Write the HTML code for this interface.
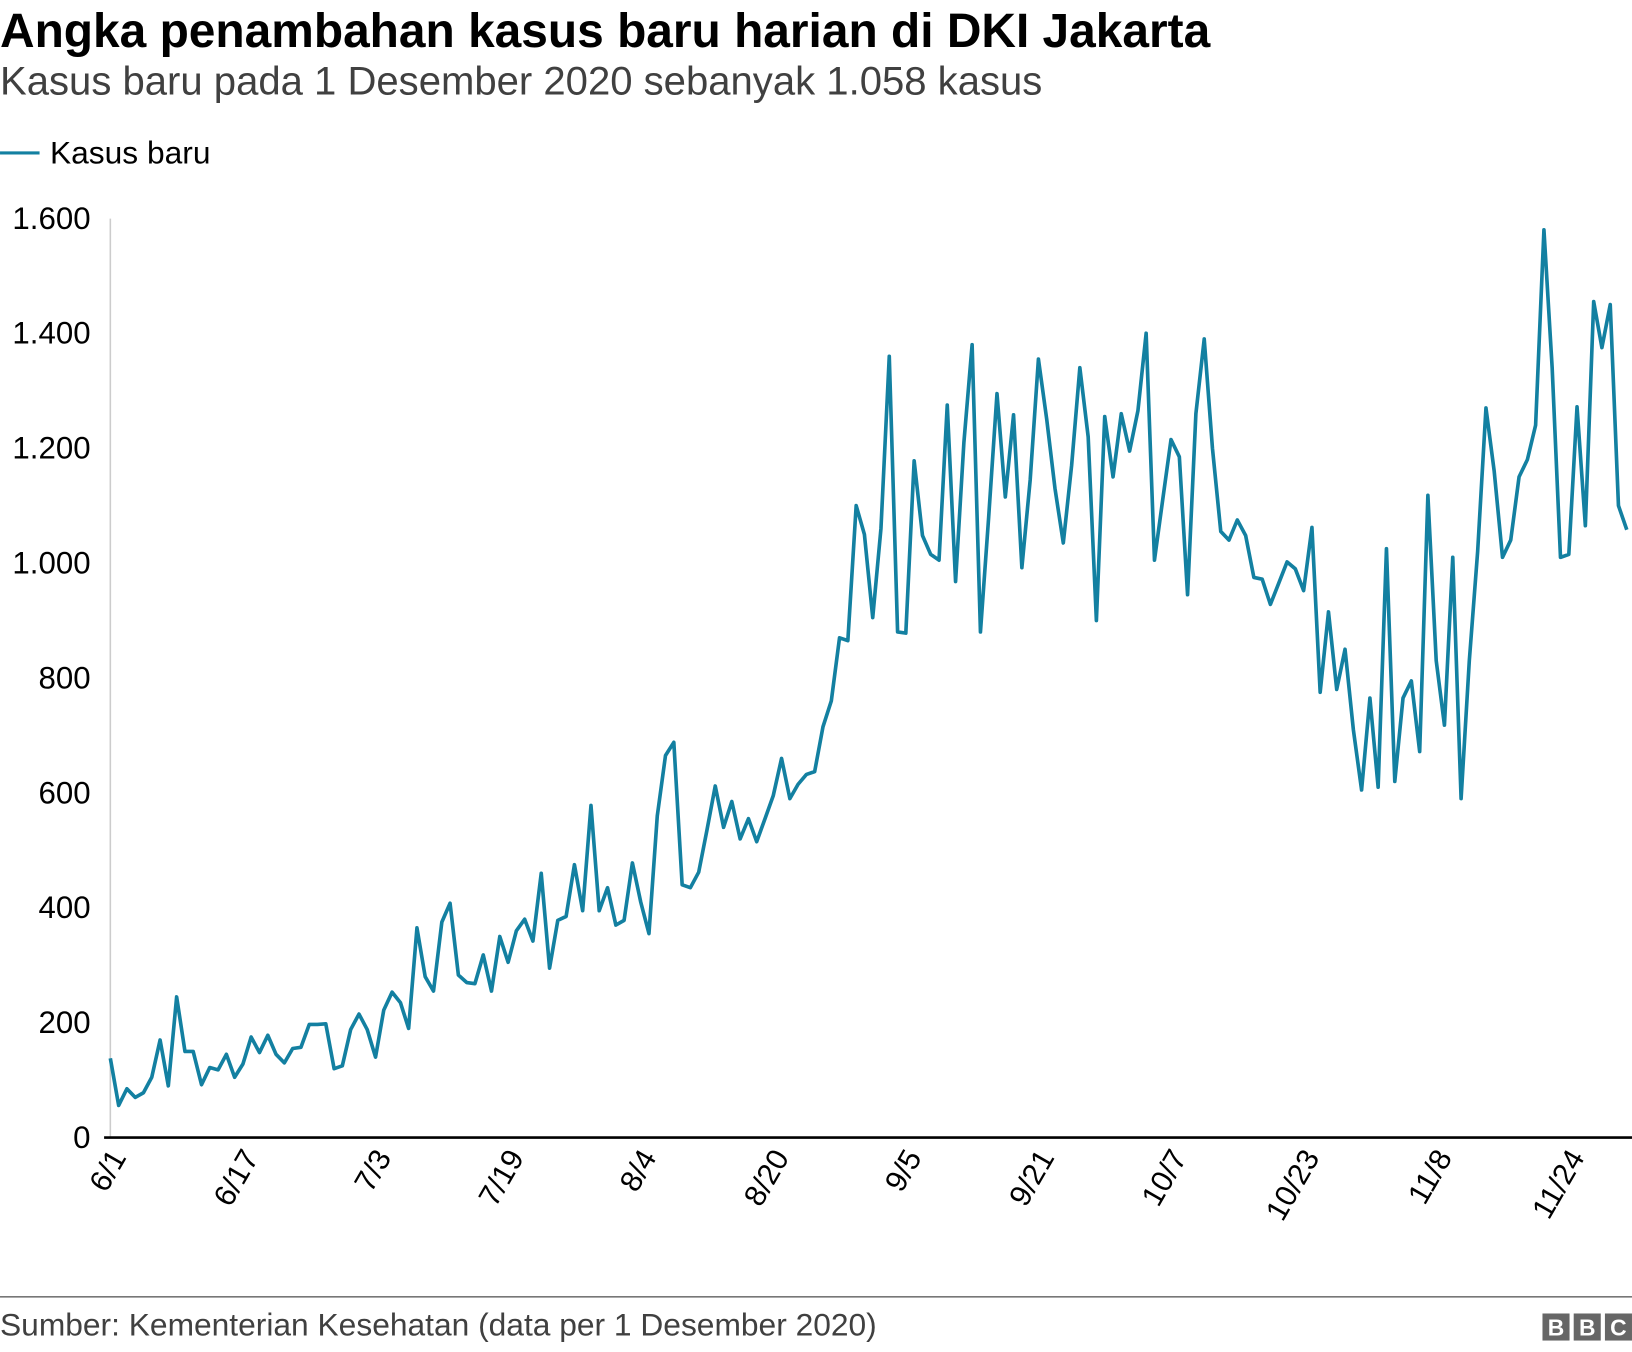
<!DOCTYPE html>
<html><head><meta charset="utf-8"><style>
html,body{margin:0;padding:0;background:#fff;}
svg{display:block;font-family:"Liberation Sans",Arial,sans-serif;}
</style></head><body>
<svg width="1632" height="1352" viewBox="0 0 1568 1299" xmlns="http://www.w3.org/2000/svg">
<text x="0" y="45" font-size="46" font-weight="bold" fill="#000">Angka penambahan kasus baru harian di DKI Jakarta</text>
<text x="0" y="91" font-size="38.5" fill="#404040">Kasus baru pada 1 Desember 2020 sebanyak 1.058 kasus</text>
<line x1="0" y1="147" x2="38" y2="147" stroke="#1380a1" stroke-width="3"/>
<text x="48" y="157" font-size="30.5" fill="#000">Kasus baru</text>
<line x1="106" y1="210" x2="106" y2="1093" stroke="#ccc" stroke-width="1.5"/>
<g font-size="30" fill="#000" text-anchor="end" id="yl"></g>
<polyline id="ln" fill="none" stroke="#1380a1" stroke-width="3.5" stroke-linejoin="round"/>
<line x1="100" y1="1093" x2="1568" y2="1093" stroke="#000" stroke-width="2.5"/>
<g font-size="29" fill="#000" text-anchor="end" id="xl"></g>
<line x1="0" y1="1246" x2="1568" y2="1246" stroke="#777" stroke-width="1.5"/>
<text x="0" y="1283" font-size="30.5" fill="#404040">Sumber: Kementerian Kesehatan (data per 1 Desember 2020)</text>
<g font-size="22" font-weight="bold" fill="#fff" text-anchor="middle">
<rect x="1482" y="1262" width="26" height="26" fill="#666"/><text x="1495" y="1283">B</text>
<rect x="1512" y="1262" width="26" height="26" fill="#666"/><text x="1525" y="1283">B</text>
<rect x="1542" y="1262" width="26" height="26" fill="#666"/><text x="1555" y="1283">C</text>
</g>
</svg>
<script>
var v=[138,56,85,70,78,105,170,90,245,150,150,92,122,118,145,105,128,175,148,178,145,130,155,157,197,197,198,120,125,188,215,188,140,222,253,235,190,365,280,255,375,408,283,270,268,318,255,350,305,360,380,342,460,295,378,385,475,395,578,395,435,370,378,478,410,355,560,665,688,440,435,462,535,612,540,585,520,555,515,555,595,660,590,615,632,637,715,760,870,865,1100,1050,905,1060,1360,880,878,1178,1048,1015,1005,1275,968,1210,1380,880,1080,1295,1115,1258,992,1145,1355,1250,1130,1035,1170,1340,1220,900,1255,1150,1260,1195,1265,1400,1005,1110,1215,1185,945,1260,1390,1200,1055,1040,1075,1048,975,972,928,965,1002,990,952,1062,775,915,780,850,710,605,765,610,1025,620,765,795,672,1118,830,718,1010,590,830,1020,1270,1160,1010,1040,1150,1180,1240,1580,1340,1010,1015,1272,1065,1455,1375,1450,1100,1058];
var dx=(1563-106)/183,p=[];
for(var i=0;i<v.length;i++)p.push((106+i*dx).toFixed(1)+","+(1093-v[i]*0.552).toFixed(1));
document.getElementById("ln").setAttribute("points",p.join(" "));
var ns="http://www.w3.org/2000/svg",yl=document.getElementById("yl");
for(var k=0;k<=8;k++){var t=document.createElementNS(ns,"text");t.setAttribute("x",87);t.setAttribute("y",1093-k*110.4+10);
t.textContent=k==0?"0":(k*200>=1000?(k*200/1000|0)+"."+String(k*200%1000).padStart(3,"0"):String(k*200));yl.appendChild(t);}
var lb=["6/1","6/17","7/3","7/19","8/4","8/20","9/5","9/21","10/7","10/23","11/8","11/24"],xl=document.getElementById("xl");
for(var j=0;j<lb.length;j++){var x=106+j*16*dx+16,t=document.createElementNS(ns,"text");
t.setAttribute("transform","translate("+x+",1112) rotate(-60)");t.textContent=lb[j];xl.appendChild(t);}
</script>
</body></html>
